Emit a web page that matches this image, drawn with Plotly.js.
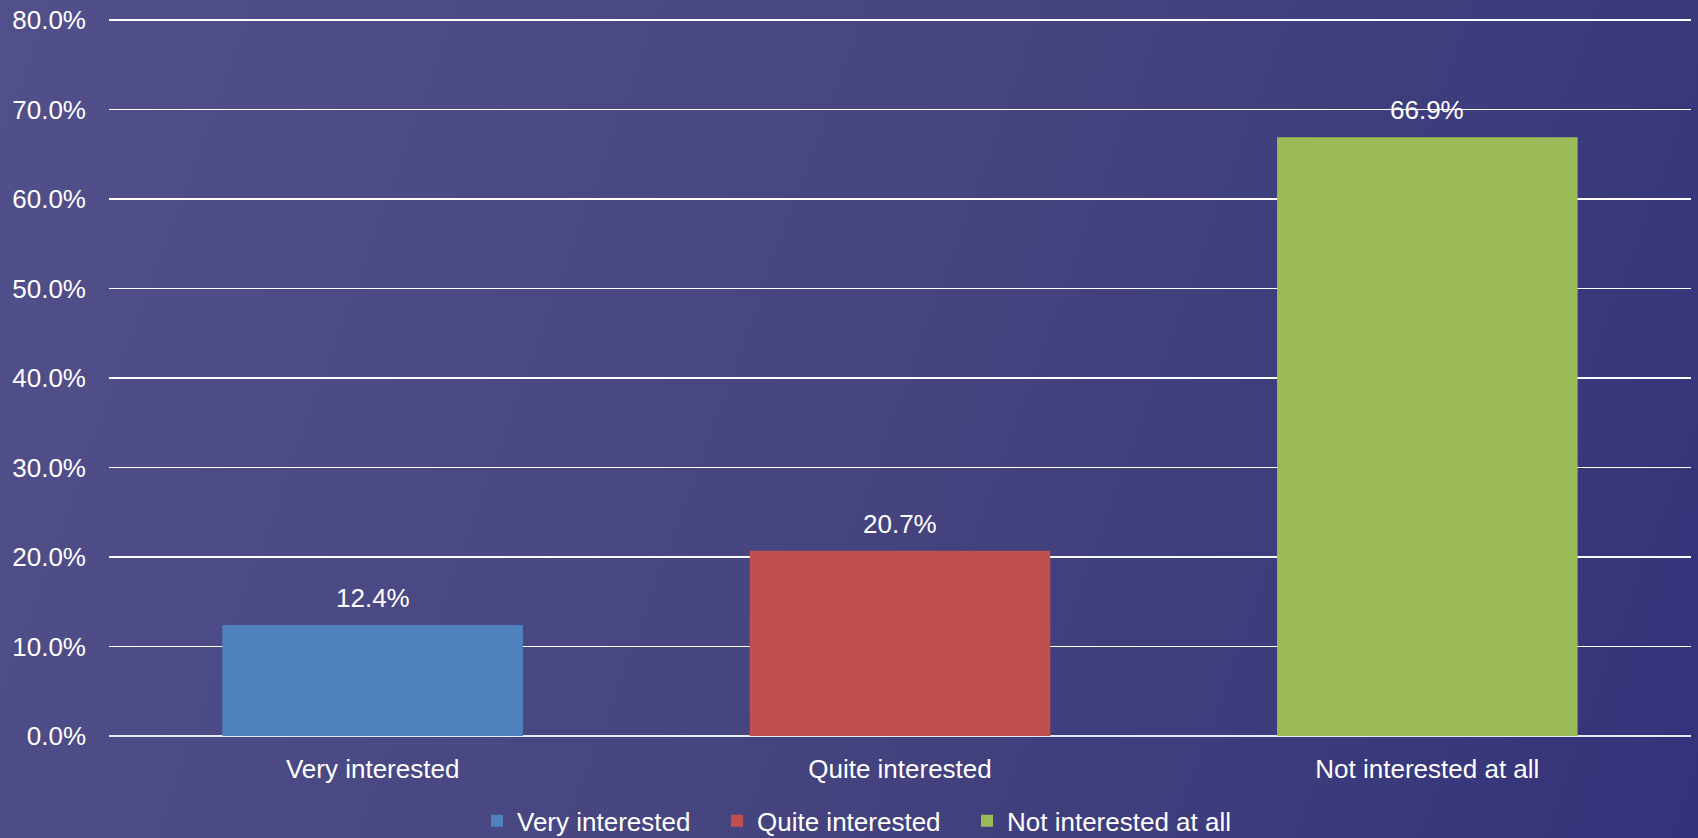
<!DOCTYPE html>
<html>
<head>
<meta charset="utf-8">
<script src="https://cdn.plot.ly/plotly-3.0.1.min.js"></script>
<style>
  html, body { margin: 0; padding: 0; width: 1698px; height: 838px; overflow: hidden;
    background: linear-gradient(110deg, #51508b 0%, #46457f 50%, #34337a 100%); }
  #chart { width: 1698px; height: 838px; }
</style>
</head>
<body>
<div id="chart"></div>
<script>
const categories = ["Very interested", "Quite interested", "Not interested at all"];
const values = [12.4, 20.7, 66.9];
const colors = ["#4f81bd", "#c0504d", "#9bbb59"];
const yTicks = [0, 10, 20, 30, 40, 50, 60, 70, 80];

const FONT = "Liberation Sans, Arial, sans-serif";
const legendIds = ["legend", "legend2", "legend3"];
const legendX = [477, 717, 967];

const traces = categories.map((c, i) => ({
  type: "bar",
  name: c,
  x: [c],
  y: [values[i]],
  marker: { color: colors[i] },
  legend: legendIds[i],
  hoverinfo: "skip"
}));

const annotations = categories.map((c, i) => ({
  x: c, y: values[i], xref: "x", yref: "y",
  text: values[i].toFixed(1) + "%",
  showarrow: false, yanchor: "bottom", yshift: 10,
  font: { family: FONT, size: 26, color: "#ffffff" }
}));

const layout = {
  width: 1698, height: 838,
  paper_bgcolor: "rgba(0,0,0,0)",
  plot_bgcolor: "rgba(0,0,0,0)",
  margin: { l: 109, r: 7, t: 11, b: 102, autoexpand: false },
  barmode: "overlay",
  bargap: 0.43,
  showlegend: true,
  font: { family: FONT, size: 26, color: "#ffffff" },
  xaxis: {
    type: "category",
    categoryorder: "array",
    categoryarray: categories,
    showgrid: false, zeroline: false, showline: false, ticks: "",
    ticklabelstandoff: 15,
    automargin: false,
    tickfont: { family: FONT, size: 26, color: "#ffffff" }
  },
  yaxis: {
    range: [0, 81],
    tickvals: yTicks,
    ticktext: yTicks.map(v => v.toFixed(1) + "%"),
    showgrid: true, gridcolor: "#ffffff", gridwidth: 1.5,
    zeroline: true, zerolinecolor: "#e8e8f0", zerolinewidth: 2,
    showline: false, ticks: "",
    ticklabelstandoff: 22,
    automargin: false,
    tickfont: { family: FONT, size: 26, color: "#ffffff" }
  },
  annotations: annotations
};

legendIds.forEach((id, i) => {
  layout[id] = {
    orientation: "h",
    xref: "container", yref: "paper",
    x: legendX[i] / 1698, xanchor: "left",
    y: -0.117, yanchor: "middle",
    bgcolor: "rgba(0,0,0,0)",
    font: { family: FONT, size: 26, color: "#ffffff" }
  };
});

Plotly.newPlot("chart", traces, layout, { displayModeBar: false, staticPlot: true });
</script>
</body>
</html>
